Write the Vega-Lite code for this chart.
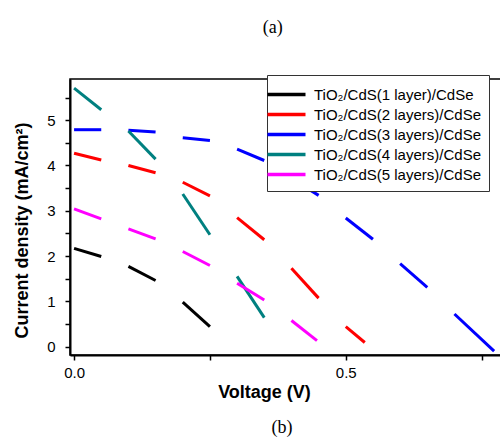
{
  "$schema": "https://vega.github.io/schema/vega-lite/v6.json",
  "padding": {"left": 12, "top": 18, "right": 0, "bottom": 2},
  "background": "white",
  "title": {"text": "(a)", "font": "Liberation Serif", "fontSize": 18, "fontWeight": "normal", "color": "black", "anchor": "middle", "offset": 38, "dx": 15},
  "config": {
    "view": {"stroke": "black", "strokeWidth": 1.5},
    "axis": {
      "grid": false,
      "labelFont": "Liberation Sans", "labelFontSize": 15, "labelColor": "black",
      "titleFont": "Liberation Sans", "titleFontSize": 18, "titleFontWeight": "bold", "titleColor": "black",
      "domainColor": "black", "domainWidth": 2, "tickColor": "black", "tickWidth": 1.5, "tickSize": 5
    },
    "legend": {
      "labelFont": "Liberation Sans", "labelFontSize": 15, "labelColor": "black", "labelLimit": 400
    }
  },
  "vconcat": [
    {
      "width": 432,
      "height": 276,
      "title": {"text": "(b)", "orient": "bottom", "font": "Liberation Serif", "fontSize": 18, "fontWeight": "normal", "color": "black", "anchor": "middle", "offset": 18, "dx": -4},
      "data": {"values": [
        {"s": "TiO₂/CdS(1 layer)/CdSe", "g": 1, "v": 0.0, "j": 2.17},
        {"s": "TiO₂/CdS(1 layer)/CdSe", "g": 1, "v": 0.05, "j": 1.99},
        {"s": "TiO₂/CdS(1 layer)/CdSe", "g": 2, "v": 0.10, "j": 1.77},
        {"s": "TiO₂/CdS(1 layer)/CdSe", "g": 2, "v": 0.15, "j": 1.46},
        {"s": "TiO₂/CdS(1 layer)/CdSe", "g": 3, "v": 0.20, "j": 0.98},
        {"s": "TiO₂/CdS(1 layer)/CdSe", "g": 3, "v": 0.25, "j": 0.44},
        {"s": "TiO₂/CdS(2 layers)/CdSe", "g": 1, "v": 0.0, "j": 4.27},
        {"s": "TiO₂/CdS(2 layers)/CdSe", "g": 1, "v": 0.05, "j": 4.12},
        {"s": "TiO₂/CdS(2 layers)/CdSe", "g": 2, "v": 0.10, "j": 4.00},
        {"s": "TiO₂/CdS(2 layers)/CdSe", "g": 2, "v": 0.15, "j": 3.84},
        {"s": "TiO₂/CdS(2 layers)/CdSe", "g": 3, "v": 0.20, "j": 3.63},
        {"s": "TiO₂/CdS(2 layers)/CdSe", "g": 3, "v": 0.25, "j": 3.33},
        {"s": "TiO₂/CdS(2 layers)/CdSe", "g": 4, "v": 0.30, "j": 2.85},
        {"s": "TiO₂/CdS(2 layers)/CdSe", "g": 4, "v": 0.35, "j": 2.36},
        {"s": "TiO₂/CdS(2 layers)/CdSe", "g": 5, "v": 0.40, "j": 1.73},
        {"s": "TiO₂/CdS(2 layers)/CdSe", "g": 5, "v": 0.45, "j": 1.07},
        {"s": "TiO₂/CdS(2 layers)/CdSe", "g": 6, "v": 0.50, "j": 0.44},
        {"s": "TiO₂/CdS(2 layers)/CdSe", "g": 6, "v": 0.535, "j": 0.09},
        {"s": "TiO₂/CdS(3 layers)/CdSe", "g": 1, "v": 0.0, "j": 4.79},
        {"s": "TiO₂/CdS(3 layers)/CdSe", "g": 1, "v": 0.05, "j": 4.79},
        {"s": "TiO₂/CdS(3 layers)/CdSe", "g": 2, "v": 0.10, "j": 4.78},
        {"s": "TiO₂/CdS(3 layers)/CdSe", "g": 2, "v": 0.15, "j": 4.74},
        {"s": "TiO₂/CdS(3 layers)/CdSe", "g": 3, "v": 0.20, "j": 4.61},
        {"s": "TiO₂/CdS(3 layers)/CdSe", "g": 3, "v": 0.25, "j": 4.55},
        {"s": "TiO₂/CdS(3 layers)/CdSe", "g": 4, "v": 0.30, "j": 4.36},
        {"s": "TiO₂/CdS(3 layers)/CdSe", "g": 4, "v": 0.35, "j": 4.11},
        {"s": "TiO₂/CdS(3 layers)/CdSe", "g": 5, "v": 0.40, "j": 3.72},
        {"s": "TiO₂/CdS(3 layers)/CdSe", "g": 5, "v": 0.45, "j": 3.34},
        {"s": "TiO₂/CdS(3 layers)/CdSe", "g": 6, "v": 0.50, "j": 2.84},
        {"s": "TiO₂/CdS(3 layers)/CdSe", "g": 6, "v": 0.55, "j": 2.37},
        {"s": "TiO₂/CdS(3 layers)/CdSe", "g": 7, "v": 0.60, "j": 1.83},
        {"s": "TiO₂/CdS(3 layers)/CdSe", "g": 7, "v": 0.65, "j": 1.31},
        {"s": "TiO₂/CdS(3 layers)/CdSe", "g": 8, "v": 0.70, "j": 0.72},
        {"s": "TiO₂/CdS(3 layers)/CdSe", "g": 8, "v": 0.773, "j": -0.10},
        {"s": "TiO₂/CdS(4 layers)/CdSe", "g": 1, "v": 0.0, "j": 5.71},
        {"s": "TiO₂/CdS(4 layers)/CdSe", "g": 1, "v": 0.05, "j": 5.23},
        {"s": "TiO₂/CdS(4 layers)/CdSe", "g": 2, "v": 0.10, "j": 4.76},
        {"s": "TiO₂/CdS(4 layers)/CdSe", "g": 2, "v": 0.15, "j": 4.14},
        {"s": "TiO₂/CdS(4 layers)/CdSe", "g": 3, "v": 0.20, "j": 3.37},
        {"s": "TiO₂/CdS(4 layers)/CdSe", "g": 3, "v": 0.25, "j": 2.47},
        {"s": "TiO₂/CdS(4 layers)/CdSe", "g": 4, "v": 0.30, "j": 1.55},
        {"s": "TiO₂/CdS(4 layers)/CdSe", "g": 4, "v": 0.35, "j": 0.64},
        {"s": "TiO₂/CdS(5 layers)/CdSe", "g": 1, "v": 0.0, "j": 3.04},
        {"s": "TiO₂/CdS(5 layers)/CdSe", "g": 1, "v": 0.05, "j": 2.82},
        {"s": "TiO₂/CdS(5 layers)/CdSe", "g": 2, "v": 0.10, "j": 2.60},
        {"s": "TiO₂/CdS(5 layers)/CdSe", "g": 2, "v": 0.15, "j": 2.38},
        {"s": "TiO₂/CdS(5 layers)/CdSe", "g": 3, "v": 0.20, "j": 2.10},
        {"s": "TiO₂/CdS(5 layers)/CdSe", "g": 3, "v": 0.25, "j": 1.79},
        {"s": "TiO₂/CdS(5 layers)/CdSe", "g": 4, "v": 0.30, "j": 1.40},
        {"s": "TiO₂/CdS(5 layers)/CdSe", "g": 4, "v": 0.35, "j": 1.03},
        {"s": "TiO₂/CdS(5 layers)/CdSe", "g": 5, "v": 0.40, "j": 0.575},
        {"s": "TiO₂/CdS(5 layers)/CdSe", "g": 5, "v": 0.447, "j": 0.13}
      ]},
      "mark": {"type": "line", "strokeWidth": 3, "clip": true},
      "encoding": {
        "x": {"field": "v", "type": "quantitative",
              "scale": {"domain": [-0.0075, 0.7875], "nice": false, "zero": false},
              "axis": {"title": "Voltage (V)", "values": [0, 0.25, 0.5, 0.75],
                       "labelExpr": "datum.value == 0 ? '0.0' : (datum.value == 0.5 ? '0.5' : '')",
                       "labelPadding": 5, "titlePadding": 3, "titleX": 194}},
        "y": {"field": "j", "type": "quantitative",
              "scale": {"domain": [-0.186, 5.91], "nice": false, "zero": false},
              "axis": {"title": "Current density (mA/cm²)",
                       "values": [0, 0.5, 1, 1.5, 2, 2.5, 3, 3.5, 4, 4.5, 5, 5.5],
                       "labelExpr": "datum.value % 1 == 0 ? format(datum.value, 'd') : ''",
                       "labelPadding": 10, "titlePadding": 15, "titleY": 151}},
        "color": {"field": "s", "type": "nominal",
                  "scale": {"domain": ["TiO₂/CdS(1 layer)/CdSe", "TiO₂/CdS(2 layers)/CdSe", "TiO₂/CdS(3 layers)/CdSe", "TiO₂/CdS(4 layers)/CdSe", "TiO₂/CdS(5 layers)/CdSe"],
                            "range": ["#000000", "#ff0000", "#0000ff", "#008080", "#ff00ff"]},
                  "legend": {"title": null, "orient": "none", "legendX": 197, "legendY": -4,
                             "symbolType": "M-2,0L2,0", "symbolSize": 361, "symbolStrokeWidth": 3.5,
                             "labelOffset": 16, "padding": 8, "rowPadding": 0, "labelLimit": 400,
                             "strokeColor": "#333333", "fillColor": "white"}},
        "detail": {"field": "g", "type": "nominal"}
      }
    }
  ]
}
